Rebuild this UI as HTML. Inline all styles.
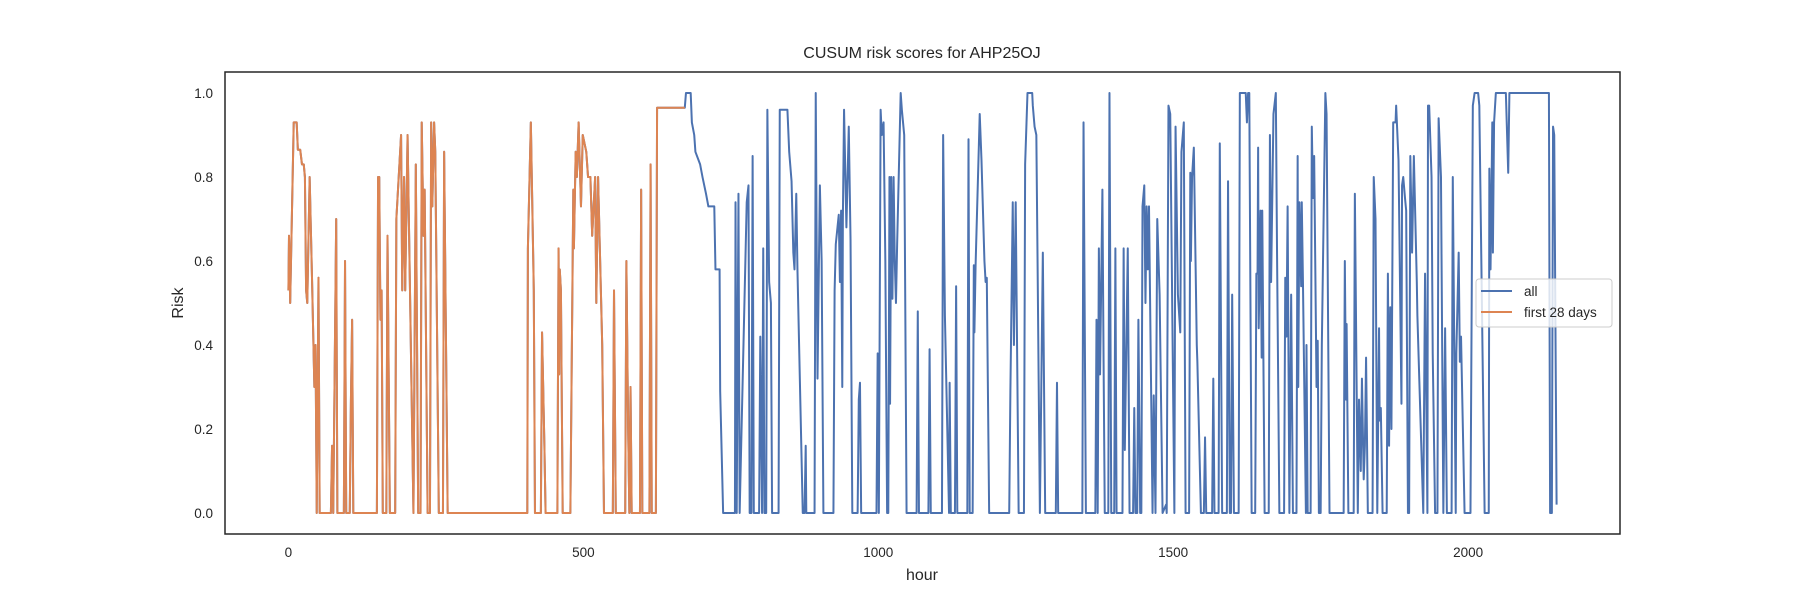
<!DOCTYPE html>
<html><head><meta charset="utf-8"><style>
body{margin:0;background:#fff;}
svg{display:block;font-family:"Liberation Sans","DejaVu Sans",sans-serif;}
</style></head><body>
<svg id="chart" width="1800" height="600" xmlns="http://www.w3.org/2000/svg">
<rect x="0" y="0" width="1800" height="600" fill="#fff"/>
<text x="922" y="58" font-size="16" text-anchor="middle" fill="#262626">CUSUM risk scores for AHP25OJ</text>
<g id="xticks"></g>
<g id="yticks"></g>
<g id="lines"></g>
<rect x="225" y="72" width="1395" height="462" fill="none" stroke="#262626" stroke-width="1.5"/>
<text x="922" y="580" font-size="16" text-anchor="middle" fill="#262626">hour</text>
<text x="183" y="303" font-size="16" text-anchor="middle" fill="#262626" transform="rotate(-90 183 303)">Risk</text>
<g>
<rect x="1476" y="279" width="136" height="48" rx="3" fill="#fff" fill-opacity="0.8" stroke="#cccccc"/>
<line x1="1481" y1="291" x2="1512" y2="291" stroke="#4c72b0" stroke-width="2"/>
<text x="1524" y="296" font-size="13.5" fill="#262626">all</text>
<line x1="1481" y1="312" x2="1512" y2="312" stroke="#dd8452" stroke-width="2"/>
<text x="1524" y="317" font-size="13.5" fill="#262626">first 28 days</text>
</g>
</svg>
<script>
const xTicks=[0,500,1000,1500,2000];
const yTicks=[0,0.2,0.4,0.6,0.8,1.0];
const firstHours=[0,1,3,9,14,16,20,23,26,28,30,32,36,40,44,46,48,51,53,72,74,76,81,83,94,96,98,104,106,108,110,150,152,154,156,158,160,166,168,172,181,183,191,193,196,198,202,212,216,220,224,226,229,231,236,240,242,244,247,249,255,262,264,270,405,406,411,416,418,428,430,434,436,456,458,459,460,462,465,478,483,484,487,489,492,496,499,505,508,512,515,520,522,525,532,535,550,552,555,571,573,576,578,580,582,596,598,600,612,614,616,623,625,672];
const firstRisk=[.53,.66,.5,.93,.93,.865,.865,.83,.83,.8,.53,.5,.8,.56,.3,.4,0,.56,0,0,.16,0,.7,0,0,.6,0,0,.27,.46,0,0,.8,.8,.46,.53,0,0,.66,0,0,.7,.9,.53,.8,.53,.9,0,.83,0,0,.93,.66,.77,0,0,.93,.73,.93,.86,0,0,.86,0,0,.63,.93,.53,0,0,.43,.16,0,0,.63,.33,.58,.53,0,0,.77,.63,.86,.8,.93,.73,.9,.86,.8,.8,.66,.8,.5,.8,.4,0,0,.53,0,0,.6,.2,0,.3,0,0,.77,0,0,.83,0,0,.965,.965];
const laterHours=[674,682,684,688,690,698,702,708,712,722,724,731,732,737,757,758,760,763,765,777,780,782,785,787,789,798,800,803,805,807,810,812,815,818,820,831,833,846,849,853,856,858,861,863,872,875,877,878,892,894,897,901,904,907,924,926,928,933,935,937,939,940,942,946,950,953,956,965,967,969,971,997,999,1001,1004,1006,1009,1012,1015,1017,1019,1020,1022,1024,1026,1028,1030,1032,1038,1040,1044,1048,1065,1067,1069,1085,1087,1089,1108,1110,1113,1120,1121,1123,1130,1132,1134,1151,1153,1155,1160,1162,1163,1165,1172,1175,1180,1182,1184,1188,1222,1224,1228,1230,1233,1238,1247,1249,1253,1261,1262,1265,1268,1270,1274,1279,1283,1301,1303,1305,1346,1348,1352,1368,1370,1372,1374,1376,1380,1382,1384,1390,1392,1395,1400,1402,1404,1414,1416,1418,1423,1426,1432,1434,1436,1439,1441,1444,1446,1448,1451,1453,1455,1457,1459,1465,1467,1470,1473,1477,1482,1488,1489,1492,1495,1502,1504,1508,1512,1514,1518,1521,1527,1529,1530,1532,1535,1540,1541,1547,1552,1554,1556,1566,1568,1570,1577,1579,1583,1591,1593,1596,1598,1600,1603,1611,1613,1623,1625,1627,1629,1633,1639,1641,1643,1644,1645,1648,1650,1651,1655,1662,1664,1666,1670,1674,1676,1680,1688,1690,1692,1694,1697,1700,1703,1709,1711,1712,1714,1717,1718,1720,1725,1726,1728,1733,1735,1737,1739,1743,1745,1747,1750,1752,1758,1760,1765,1789,1791,1793,1794,1797,1806,1808,1813,1815,1818,1820,1823,1825,1827,1830,1838,1840,1843,1846,1849,1850,1852,1855,1862,1864,1866,1868,1870,1873,1877,1878,1882,1887,1888,1890,1893,1895,1898,1900,1902,1905,1908,1913,1914,1924,1927,1931,1932,1934,1938,1940,1944,1948,1950,1954,1958,1961,1964,1972,1974,1979,1980,1984,1986,1988,1994,2004,2008,2011,2017,2019,2028,2035,2036,2038,2041,2042,2044,2047,2064,2068,2070,2137,2139,2142,2144,2146,2150];
const laterRisk=[1,1,.93,.9,.86,.83,.8,.76,.73,.73,.58,.58,.29,0,0,.74,0,.76,0,.74,.78,0,0,.85,0,0,.42,0,.63,0,0,.96,.55,.5,0,0,.96,.96,.86,.79,.62,.58,.76,.58,0,0,.16,0,0,1,.32,.78,.6,0,0,.53,.64,.71,.55,.72,.3,.7,.96,.68,.92,.65,0,0,.27,.31,0,0,.38,0,.96,.9,.93,.6,0,0,.8,.26,.8,.51,.8,.6,.5,.64,1,.96,.9,0,0,.48,0,0,.39,0,0,.9,.47,0,.31,0,0,.54,0,0,.89,0,0,.59,.43,.59,.95,.84,.6,.55,.56,0,0,.29,.74,.4,.74,0,0,.83,1,1,.97,.92,.9,.61,0,.62,0,0,.31,0,0,.93,0,0,.46,0,.63,.33,.77,.36,0,0,1,0,0,.63,0,0,.63,.15,.63,0,0,.25,0,0,.46,0,0,.73,.78,.5,.73,.58,.73,0,.28,0,.7,.52,0,.02,0,.97,.95,0,.92,.52,.43,.86,.93,0,0,.81,.6,.8,.87,.4,.36,0,0,.18,0,0,.32,0,0,.88,0,0,.79,0,0,.52,0,0,1,1,.93,1,1,0,0,.57,.57,.87,.44,.72,.37,.72,0,0,.9,.55,.95,1,.63,0,0,.56,.42,.73,0,.52,0,0,.85,.3,.74,.54,.74,.55,0,.4,0,0,.92,.75,.85,.3,.41,0,0,.4,1,.95,0,0,.6,.27,.45,0,0,.76,0,.27,.1,.32,.08,.16,.37,0,0,.8,.7,0,.44,.22,.25,0,0,.57,.16,.49,.2,.93,.93,.97,.84,.26,.78,.8,.75,.72,0,0,.85,.62,.85,.55,.47,0,.57,0,.97,.97,.8,.38,0,0,.94,.8,0,.44,0,0,.8,0,.38,.62,.36,.42,0,0,.97,1,1,.97,0,0,.82,.58,.93,.62,.93,1,1,.81,1,1,0,0,.92,.9,.02];

const X0=225,X1=1620,Y0=534,Y1=72,xmin=-107.5,xmax=2257.5,ymin=-0.05,ymax=1.05;
function xs(h){return X0+(h-xmin)/(xmax-xmin)*(X1-X0);}
function ys(v){return Y0-(v-ymin)/(ymax-ymin)*(Y0-Y1);}
const NS="http://www.w3.org/2000/svg";
const xg=document.getElementById('xticks'),yg=document.getElementById('yticks'),lg=document.getElementById('lines');
xTicks.forEach(t=>{const e=document.createElementNS(NS,'text');e.setAttribute('x',xs(t));e.setAttribute('y',Y0+23);e.setAttribute('font-size','13.5');e.setAttribute('text-anchor','middle');e.setAttribute('fill','#262626');e.textContent=String(t);


xg.appendChild(e);});
yTicks.forEach(t=>{const e=document.createElementNS(NS,'text');e.setAttribute('x',X0-12);e.setAttribute('y',ys(t)+5);e.setAttribute('font-size','13.5');e.setAttribute('text-anchor','end');e.setAttribute('fill','#262626');e.textContent=t.toFixed(1);


yg.appendChild(e);});
function draw(hs,vs,color,name){const p=document.createElementNS(NS,'polyline');p.setAttribute('points',hs.map((h,i)=>xs(h).toFixed(2)+','+ys(vs[i]).toFixed(2)).join(' '));p.setAttribute('fill','none');p.setAttribute('stroke',color);p.setAttribute('stroke-width','2');p.setAttribute('stroke-linejoin','round');


lg.appendChild(p);}
draw(firstHours.concat(laterHours),firstRisk.concat(laterRisk),'#4c72b0','line-all');
draw(firstHours,firstRisk,'#dd8452','line-first-28-days');
</script>
</body></html>
